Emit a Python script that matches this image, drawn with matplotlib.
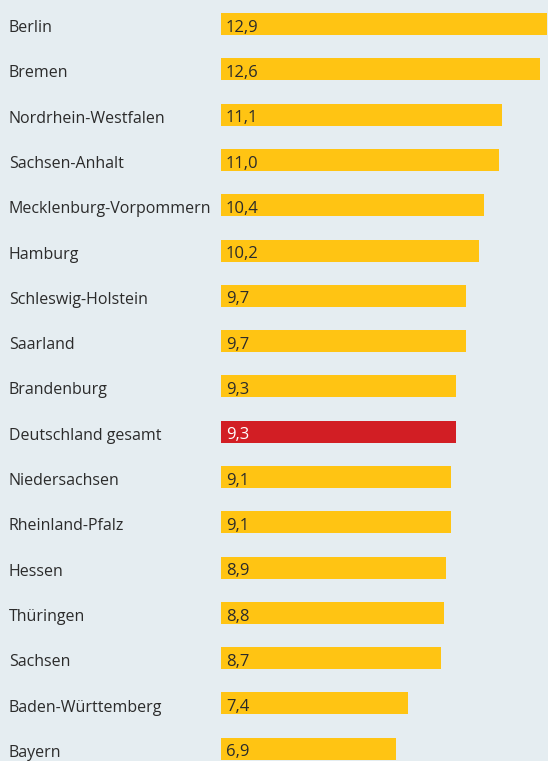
import matplotlib
matplotlib.use("Agg")
import matplotlib.pyplot as plt
import matplotlib.transforms as mtransforms

regions = ["Berlin", "Bremen", "Nordrhein-Westfalen", "Sachsen-Anhalt",
           "Mecklenburg-Vorpommern", "Hamburg", "Schleswig-Holstein", "Saarland",
           "Brandenburg", "Deutschland gesamt", "Niedersachsen", "Rheinland-Pfalz",
           "Hessen", "Thüringen", "Sachsen", "Baden-Württemberg", "Bayern"]
values = [12.9, 12.6, 11.1, 11.0, 10.4, 10.2, 9.7, 9.7, 9.3, 9.3, 9.1, 9.1,
          8.9, 8.8, 8.7, 7.4, 6.9]
highlight = "Deutschland gesamt"

BG = "#E5EDF1"
YELLOW = "#FFC413"
RED = "#D21E24"
TXT = "#2B2B2B"

plt.rcParams['font.family'] = ['Open Sans', 'DejaVu Sans']

W, H = 548, 761
fig = plt.figure(figsize=(W / 100, H / 100), dpi=100, facecolor=BG)
ax = fig.add_axes([0, 0, 1, 1])
ax.set_facecolor(BG)

scale = 25.3  # px per unit
x0 = 221
ax.set_xlim(-x0 / scale, (W - x0) / scale)
pitch = 45.3
first = 24
ax.set_ylim((H - first) / pitch, -first / pitch)

ypos = list(range(len(regions)))
colors = [RED if r == highlight else YELLOW for r in regions]
ax.barh(ypos, values, height=22 / pitch, color=colors, left=0, edgecolor='none')

trans = mtransforms.blended_transform_factory(ax.transAxes, ax.transData)
for y, r, v in zip(ypos, regions, values):
    ax.text(9 / W, y + 0.09, r, transform=trans, ha='left', va='center',
            fontsize=11.5, color=TXT)
    ax.annotate(f"{v:.1f}".replace('.', ','), xy=(0, y + 0.08), xytext=(3.5, 0),
                textcoords='offset points', ha='left', va='center', fontsize=12,
                color='white' if r == highlight else TXT)

ax.axis('off')
fig.savefig("out.png", dpi=100, facecolor=BG)
